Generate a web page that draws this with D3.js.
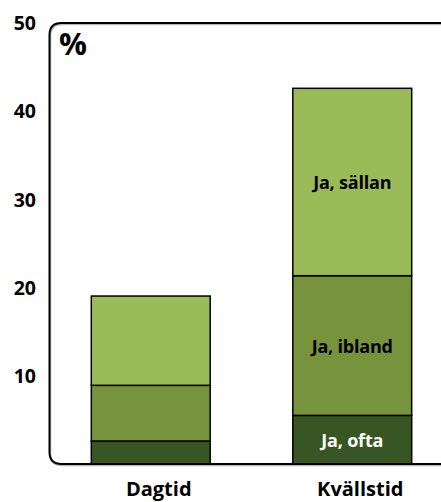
<!DOCTYPE html>
<html><head><meta charset="utf-8">
<script src="https://cdn.jsdelivr.net/npm/d3@7"></script>
<style>body{margin:0;background:#fff}svg{display:block}</style>
</head><body>
<script>
const categories = ["Dagtid", "Kvällstid"];
const seriesNames = ["Ja, ofta", "Ja, ibland", "Ja, sällan"];
const ofta = [2.6, 5.5];
const ibland = [6.3, 15.8];
const sallan = [10.1, 21.2];
const yTicks = [10, 20, 30, 40, 50];
const colors = ["#375623", "#77933C", "#9BBB59"];
const labelColors = ["#ffffff", "#000000", "#000000"];

const W = 441, H = 502;
const svg = d3.select("body").append("svg").attr("width", W).attr("height", H);
const font = "'Open Sans', Lato, sans-serif";

const x = d3.scaleBand().domain(categories).range([50, 453]).paddingInner(0.41).paddingOuter(0.205);
const y = d3.scaleLinear().domain([0, 50]).range([464, 22]);

const data = categories.map((c, i) => ({cat: c, "Ja, ofta": ofta[i], "Ja, ibland": ibland[i], "Ja, sällan": sallan[i]}));
const stack = d3.stack().keys(seriesNames)(data);

stack.forEach((layer, li) => {
  svg.append("g").selectAll("rect").data(layer).join("rect")
    .attr("x", d => x(d.data.cat))
    .attr("width", x.bandwidth())
    .attr("y", d => y(d[1]))
    .attr("height", d => y(d[0]) - y(d[1]))
    .attr("fill", colors[li])
    .attr("stroke", "#000").attr("stroke-width", 1.5);
});

// labels on second bar
stack.forEach((layer, li) => {
  const d = layer[1];
  svg.append("text")
    .attr("x", x(d.data.cat) + x.bandwidth() / 2)
    .attr("y", (y(d[0]) + y(d[1])) / 2)
    .attr("dy", "0.4em")
    .attr("text-anchor", "middle")
    .attr("font-family", font).attr("font-weight", "bold").attr("font-size", 18)
    .attr("letter-spacing", "-0.2px")
    .attr("fill", labelColors[li])
    .text(seriesNames[li]);
});

// frame
const r = 12, L = 49.5, T = y(50) + 1, B = 464;
const framePath = `M ${W + 2} ${T} L ${L + r} ${T} Q ${L} ${T} ${L} ${T + r} L ${L} ${B - r} Q ${L} ${B} ${L + r} ${B} L ${W + 2} ${B}`;
svg.append("path").attr("d", framePath).attr("fill", "none")
  .attr("stroke", "#bbb").attr("stroke-width", 2).attr("transform", "translate(0.8,1.2)");
svg.append("path").attr("d", framePath).attr("fill", "none")
  .attr("stroke", "#000").attr("stroke-width", 2);

// y axis tick labels
const yAxis = d3.axisLeft(y).tickValues(yTicks).tickSize(0).tickPadding(0);
const gy = svg.append("g").attr("transform", "translate(36,1)").call(yAxis);
gy.select(".domain").remove();
gy.selectAll("text").attr("font-family", font).attr("font-weight", "bold").attr("font-size", 19.5).attr("fill", "#000");

// x axis labels (category labels sit slightly right of bar centers in the reference)
const xAxis = d3.axisBottom(x).tickSize(0).tickPadding(0);
const gx = svg.append("g").attr("transform", "translate(8,496)").call(xAxis);
gx.select(".domain").remove();
gx.selectAll("text").attr("dy", null).attr("font-family", font).attr("font-weight", "bold").attr("font-size", 20).attr("fill", "#000");

// % label
svg.append("text").attr("x", 59).attr("y", 55)
  .attr("font-family", font).attr("font-weight", "bold").attr("font-size", 31).text("%");
</script>
</body></html>
